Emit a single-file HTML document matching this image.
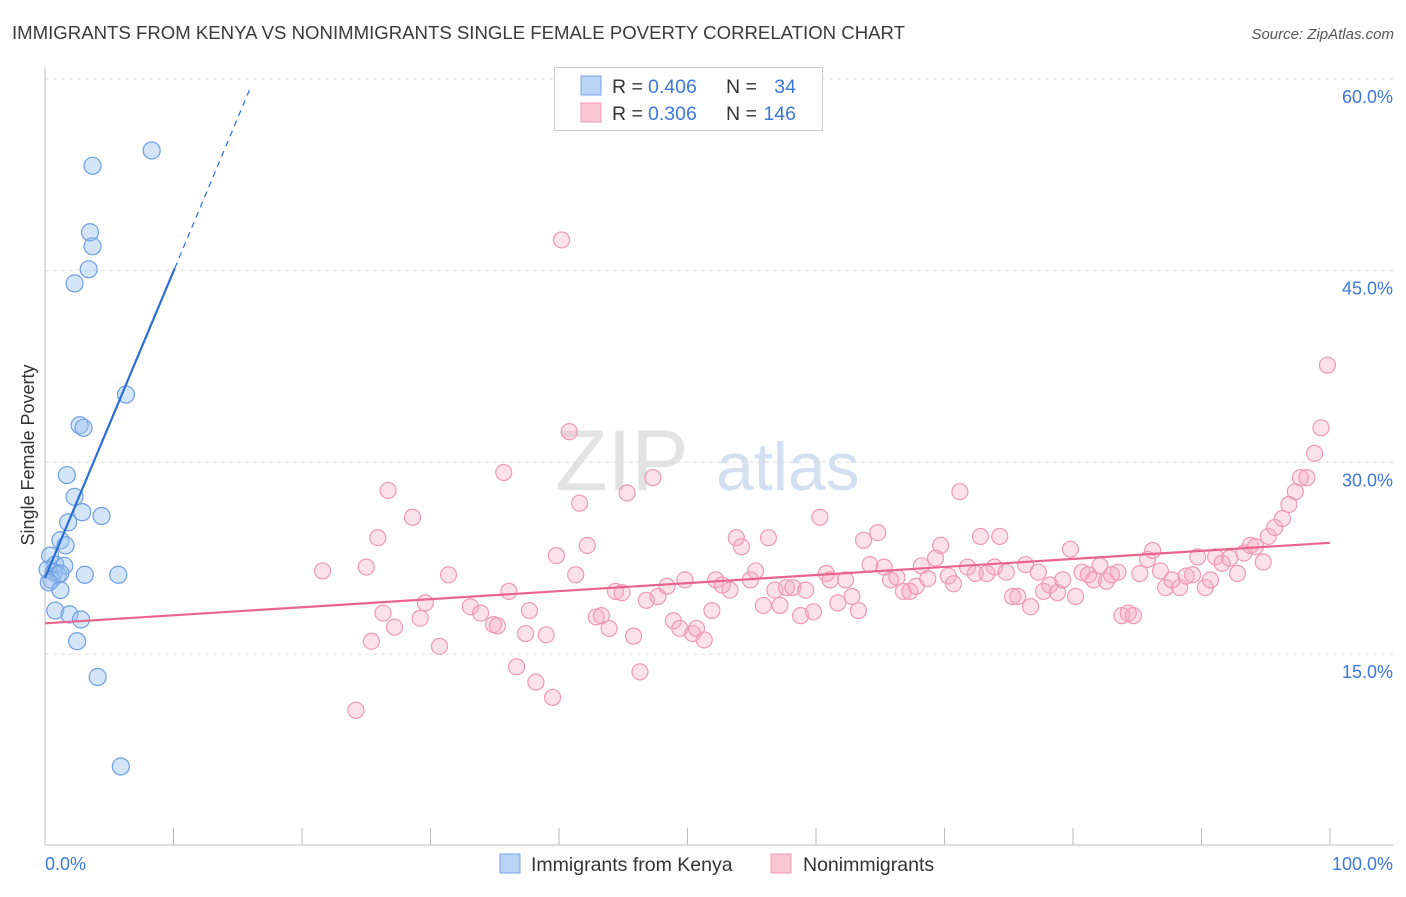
<!DOCTYPE html>
<html><head><meta charset="utf-8"><style>
body{margin:0;background:#fff;font-family:"Liberation Sans",sans-serif;}
svg text{font-family:"Liberation Sans",sans-serif;}
</style></head><body>
<svg id="chart" width="1406" height="892">
<text x="12" y="39" font-size="18.6" fill="#3a3a3a">IMMIGRANTS FROM KENYA VS NONIMMIGRANTS SINGLE FEMALE POVERTY CORRELATION CHART</text>
<text x="1394" y="39" font-size="15" font-style="italic" fill="#555" text-anchor="end">Source: ZipAtlas.com</text>
<text x="0" y="0" transform="translate(34,455) rotate(-90)" font-size="18" fill="#333" text-anchor="middle">Single Female Poverty</text>
<g><text x="555" y="490" font-size="86" fill="#ddd" font-family="Liberation Serif" opacity="0.8">ZIP</text><text x="716" y="490" font-size="68" fill="#c9d9ee" opacity="0.8">atlas</text></g>
<g id="grid"></g><g id="axes"></g><g id="pts"></g><g id="lines"></g>
<g>
<rect x="554.5" y="67.5" width="268" height="63" fill="#fff" stroke="#ccc"/>
<rect x="581" y="76" width="20" height="19" fill="#b9d3f5" stroke="#7aa6e6"/>
<rect x="581" y="103" width="20" height="19" fill="#f9c6d6" stroke="#ee9ab5"/>
<text x="612" y="93" font-size="19.5" fill="#333">R =</text>
<text x="648" y="93" font-size="19.5" fill="#3c78d8">0.406</text>
<text x="726" y="93" font-size="19.5" fill="#333">N =</text>
<text x="796" y="93" font-size="19.5" fill="#3c78d8" text-anchor="end">34</text>
<text x="612" y="120" font-size="19.5" fill="#333">R =</text>
<text x="648" y="120" font-size="19.5" fill="#3c78d8">0.306</text>
<text x="726" y="120" font-size="19.5" fill="#333">N =</text>
<text x="796" y="120" font-size="19.5" fill="#3c78d8" text-anchor="end">146</text>
</g>
<g>
<rect x="500" y="854" width="20" height="19" fill="#b9d3f5" stroke="#7aa6e6"/>
<text x="531" y="871" font-size="19.5" fill="#333">Immigrants from Kenya</text>
<rect x="771" y="854" width="20" height="19" fill="#f9c6d6" stroke="#ee9ab5"/>
<text x="803" y="871" font-size="19.5" fill="#333">Nonimmigrants</text>
</g>
</svg>
<script>
const blueX=[8.3,3.7,3.5,3.7,3.4,2.3,6.3,2.7,3.0,1.7,2.3,2.9,4.4,1.8,1.2,1.6,0.4,0.8,1.5,0.2,0.7,1.0,0.5,1.2,3.1,5.7,0.3,1.2,0.8,1.9,2.8,2.5,4.1,5.9];
const blueY=[54.4,53.2,48.0,46.9,45.1,44.0,35.3,32.9,32.7,29.0,27.3,26.1,25.8,25.3,23.9,23.5,22.7,22.0,21.9,21.6,21.4,21.2,20.8,21.3,21.2,21.2,20.6,20.0,18.4,18.1,17.7,16.0,13.2,6.2];
const pinkX=[21.6,24.2,25.0,25.4,25.9,26.3,26.7,27.2,28.6,29.2,29.6,30.7,31.4,33.1,33.9,34.9,35.2,35.7,36.1,36.7,37.4,37.7,38.2,39.0,39.5,39.8,40.2,40.8,41.3,41.6,42.2,42.9,43.3,43.9,44.4,44.9,45.3,45.8,46.3,46.8,47.3,47.7,48.4,48.9,49.4,49.8,50.4,50.7,51.3,51.9,52.2,52.7,53.3,53.8,54.2,54.9,55.3,55.9,56.3,56.8,57.2,57.7,58.2,58.8,59.2,59.8,60.3,60.8,61.1,61.7,62.3,62.8,63.3,63.7,64.2,64.8,65.3,65.8,66.3,66.8,67.3,67.8,68.2,68.7,69.3,69.7,70.3,70.7,71.2,71.8,72.4,72.8,73.3,73.9,74.3,74.8,75.3,75.7,76.3,76.7,77.3,77.7,78.2,78.8,79.2,79.8,80.2,80.7,81.2,81.6,82.1,82.6,83.0,83.5,83.8,84.3,84.7,85.2,85.8,86.2,86.8,87.2,87.7,88.3,88.8,89.3,89.7,90.3,90.7,91.1,91.6,92.2,92.8,93.3,93.8,94.2,94.8,95.2,95.7,96.3,96.8,97.3,97.7,98.2,98.8,99.3,99.8];
const pinkY=[21.5,10.6,21.8,16.0,24.1,18.2,27.8,17.1,25.7,17.8,19.0,15.6,21.2,18.7,18.2,17.3,17.2,29.2,19.9,14.0,16.6,18.4,12.8,16.5,11.6,22.7,47.4,32.4,21.2,26.8,23.5,17.9,18.0,17.0,19.9,19.8,27.6,16.4,13.6,19.2,28.8,19.5,20.3,17.6,17.0,20.8,16.6,17.0,16.1,18.4,20.8,20.4,20.0,24.1,23.4,20.8,21.5,18.8,24.1,20.0,18.8,20.2,20.2,18.0,20.0,18.3,25.7,21.3,20.8,19.0,20.8,19.5,18.4,23.9,22.0,24.5,21.8,20.8,21.0,19.9,19.9,20.3,21.9,20.9,22.5,23.5,21.1,20.5,27.7,21.8,21.3,24.2,21.3,21.8,24.2,21.4,19.5,19.5,22.0,18.7,21.4,19.9,20.4,19.8,20.8,23.2,19.5,21.4,21.2,20.8,21.9,20.7,21.2,21.4,18.0,18.2,18.0,21.3,22.4,23.1,21.5,20.2,20.8,20.2,21.1,21.2,22.6,20.2,20.8,22.6,22.1,22.5,21.3,22.9,23.5,23.4,22.2,24.2,24.9,25.6,26.7,27.7,28.8,28.8,30.7,32.7,37.6];
const yTicks=[15,30,45,60];
const yTickLabels=["15.0%","30.0%","45.0%","60.0%"];
const xTicks=[0,10,20,30,40,50,60,70,80,90,100];
const blueLine=[20.95,2.4]; // intercept, slope
const pinkLine=[17.4,0.063];

const NS="http://www.w3.org/2000/svg";
const X=v=>45+v*12.85;
const Y=v=>654-(v-15)*12.78;
function mk(p,t,a){const e=document.createElementNS(NS,t);for(const k in a)e.setAttribute(k,a[k]);p.appendChild(e);return e;}
const grid=document.getElementById('grid'),axes=document.getElementById('axes'),pts=document.getElementById('pts'),lines=document.getElementById('lines');
yTicks.forEach((t,i)=>{
  const g=mk(grid,'line',{x1:45,x2:1393,y1:Y(t),y2:Y(t),stroke:'#ddd','stroke-dasharray':'4,4'});
  
  
  const l=mk(axes,'text',{x:1393,y:Y(t)+24,'font-size':18,fill:'#3c78d8','text-anchor':'end'});
  l.textContent=yTickLabels[i];
  
  
});
const ax=mk(axes,'line',{x1:45,x2:45,y1:68,y2:845,stroke:'#bbb'});


const bx=mk(axes,'line',{x1:45,x2:1393,y1:845,y2:845,stroke:'#bbb'});


xTicks.forEach(t=>{
  const k=mk(axes,'line',{x1:X(t),x2:X(t),y1:828,y2:845,stroke:'#bbb'});
  
  
});
const xl0=mk(axes,'text',{x:45,y:870,'font-size':18,fill:'#3c78d8'});xl0.textContent='0.0%';


const xl1=mk(axes,'text',{x:1393,y:870,'font-size':18,fill:'#3c78d8','text-anchor':'end'});xl1.textContent='100.0%';


pinkX.forEach((v,i)=>{
  const c=mk(pts,'circle',{cx:X(v),cy:Y(pinkY[i]),r:8,fill:'rgba(246,170,196,0.35)',stroke:'#ee9ab5','stroke-width':1.2});
  
  
});
blueX.forEach((v,i)=>{
  const c=mk(pts,'circle',{cx:X(v),cy:Y(blueY[i]),r:8.5,fill:'rgba(150,190,240,0.4)',stroke:'#6e9fe3','stroke-width':1.2});
  
  
});
const pl=mk(lines,'line',{x1:X(0),y1:Y(pinkLine[0]),x2:X(100),y2:Y(pinkLine[0]+pinkLine[1]*100),stroke:'#e8648e','stroke-width':2.2});


const bl=mk(lines,'line',{x1:X(0),y1:Y(blueLine[0]),x2:X(10.1),y2:Y(blueLine[0]+blueLine[1]*10.1),stroke:'#2a6fd6','stroke-width':2.2});


const bd=mk(lines,'line',{x1:X(10.1),y1:Y(blueLine[0]+blueLine[1]*10.1),x2:X(16),y2:Y(blueLine[0]+blueLine[1]*16),stroke:'#2a6fd6','stroke-width':1.2,'stroke-dasharray':'6,5'});


</script>
</body></html>
